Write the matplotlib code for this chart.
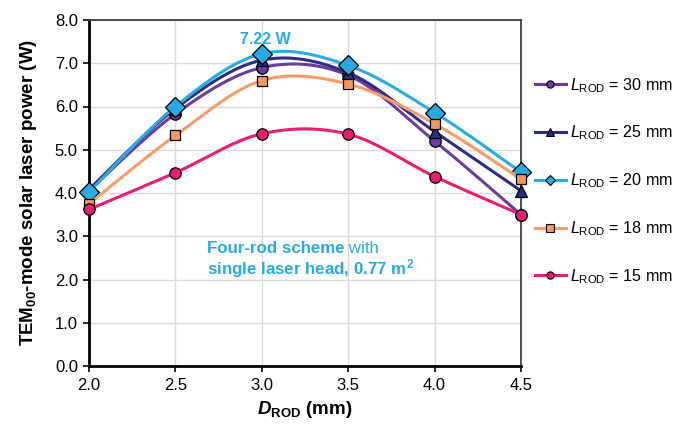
import numpy as np
import matplotlib
matplotlib.use("Agg")
import matplotlib.pyplot as plt
from matplotlib.lines import Line2D

plt.rcParams['font.family'] = ['Liberation Sans', 'DejaVu Sans']
plt.rcParams['mathtext.fontset'] = 'custom'
plt.rcParams['mathtext.rm'] = 'Liberation Sans'
plt.rcParams['mathtext.it'] = 'Liberation Sans:italic'
plt.rcParams['mathtext.bf'] = 'Liberation Sans:bold'
plt.rcParams['mathtext.bfit'] = 'Liberation Sans:bold:italic'

# ---- data ----
d_rod = [2.0, 2.5, 3.0, 3.5, 4.0, 4.5]
p_30 = [4.05, 5.83, 6.90, 6.72, 5.20, 3.50]
p_25 = [4.08, 5.95, 7.07, 6.78, 5.42, 4.05]
p_20 = [4.02, 6.00, 7.22, 6.95, 5.86, 4.48]
p_18 = [3.75, 5.33, 6.60, 6.52, 5.60, 4.32]
p_15 = [3.62, 4.47, 5.37, 5.36, 4.38, 3.50]
labels = ['30', '25', '20', '18', '15']
x_ticks = [2.0, 2.5, 3.0, 3.5, 4.0, 4.5]
y_ticks = [0, 1, 2, 3, 4, 5, 6, 7, 8]

series = [p_30, p_25, p_20, p_18, p_15]
colors = ['#6B3C9C', '#2B2E80', '#2AAAE2', '#F79C66', '#E91E6E']
mfc = ['#6B3C9C', '#2B2E80', '#2AAAE2', '#F59A62', '#E91E6E']
markers = ['o', '^', 'D', 's', 'o']
msizes = [8.2, 8.8, 10, 7.8, 8.2]
leg_msizes = [5.2, 5.6, 5.0, 5.4, 5.2]


def excel_smooth(x, y, n=40):
    x = np.asarray(x, float)
    y = np.asarray(y, float)
    P = np.column_stack([x, y])
    out = []
    m = len(P)
    for i in range(m - 1):
        p0 = P[i - 1] if i > 0 else P[i]
        p1 = P[i]
        p2 = P[i + 1]
        p3 = P[i + 2] if i + 2 < m else P[i + 1]
        c1 = p1 + (p2 - p0) / 6.0
        c2 = p2 - (p3 - p1) / 6.0
        t = np.linspace(0, 1, n)[:, None]
        seg = ((1 - t) ** 3) * p1 + 3 * ((1 - t) ** 2) * t * c1 + 3 * (1 - t) * t ** 2 * c2 + t ** 3 * p2
        if i > 0:
            seg = seg[1:]
        out.append(seg)
    out = np.vstack(out)
    return out[:, 0], out[:, 1]


fig = plt.figure(figsize=(6.74, 4.26), dpi=100)
ax = fig.add_axes([89 / 674, 1 - 366 / 426, (521 - 89) / 674, (366 - 20) / 426])

handles = []
for i, (vals, c, fc, mk, ms, lms, lab) in enumerate(zip(series, colors, mfc, markers, msizes,
                                                         leg_msizes, labels)):
    sx, sy = excel_smooth(d_rod, vals)
    ax.plot(sx, sy, color=c, lw=2.2, zorder=3 + i, clip_on=False)
    ax.plot(d_rod, vals, linestyle='none', marker=mk, ms=ms, mfc=fc, mec='black',
            mew=0.9, zorder=3 + i, clip_on=False)
    handles.append(Line2D([], [], color=c, lw=2.2, marker=mk, ms=lms, mfc=fc,
                          mec='black', mew=0.8,
                          label=r'$\mathit{L}_{\mathrm{ROD}}$ = ' + lab + ' mm'))

ax.set_xlim(2.0, 4.5)
ax.set_ylim(0, 8)
ax.set_xticks(x_ticks)
ax.set_xticklabels([f'{v:.1f}' for v in x_ticks])
ax.set_yticks(y_ticks)
ax.set_yticklabels([f'{v:.1f}' for v in y_ticks])
ax.grid(True, color='#D9D9D9', lw=1.0, zorder=0)
ax.set_axisbelow(True)
ax.tick_params(axis='both', labelsize=12, length=4, width=1.2, direction='out', colors='black')
ax.tick_params(axis='x', pad=5)
ax.tick_params(axis='y', pad=4)

for s in ['left', 'bottom']:
    ax.spines[s].set_color('black')
    ax.spines[s].set_linewidth(2.0)
for s in ['top', 'right']:
    ax.spines[s].set_color('#404040')
    ax.spines[s].set_linewidth(1.3)

ax.set_xlabel(r'$\mathbfit{D}_{\mathbf{ROD}}$ (mm)', fontsize=13.5, fontweight='bold', labelpad=4)
ax.set_ylabel(r'TEM$_{\mathbf{00}}$-mode solar laser power (W)', fontsize=13.5,
              fontweight='bold', labelpad=11)

ax.text(3.02, 7.55, '7.22 W', color='#2AAAE2', fontsize=11.5, fontweight='bold',
        ha='center', va='center')

t1 = ax.text(2.68, 2.71, 'Four-rod scheme', color='#2AAAE2', fontsize=12.2, fontweight='bold',
             ha='left', va='center')
ax.annotate(' with', xy=(1.0, 0.5), xycoords=t1, color='#2AAAE2', fontsize=12.2,
            ha='left', va='center')
ax.text(2.68, 2.25, r'single laser head, 0.77 m$^{\mathbf{2}}$', color='#2AAAE2', fontsize=12.2,
        fontweight='bold', ha='left', va='center')

leg = fig.legend(handles=handles, loc='upper left', bbox_to_anchor=(527 / 674, 1 - 68 / 426),
                 frameon=False, fontsize=11.6, handlelength=1.9, handletextpad=0.25,
                 labelspacing=1.8, borderpad=0)

fig.savefig('out.png', dpi=100)
